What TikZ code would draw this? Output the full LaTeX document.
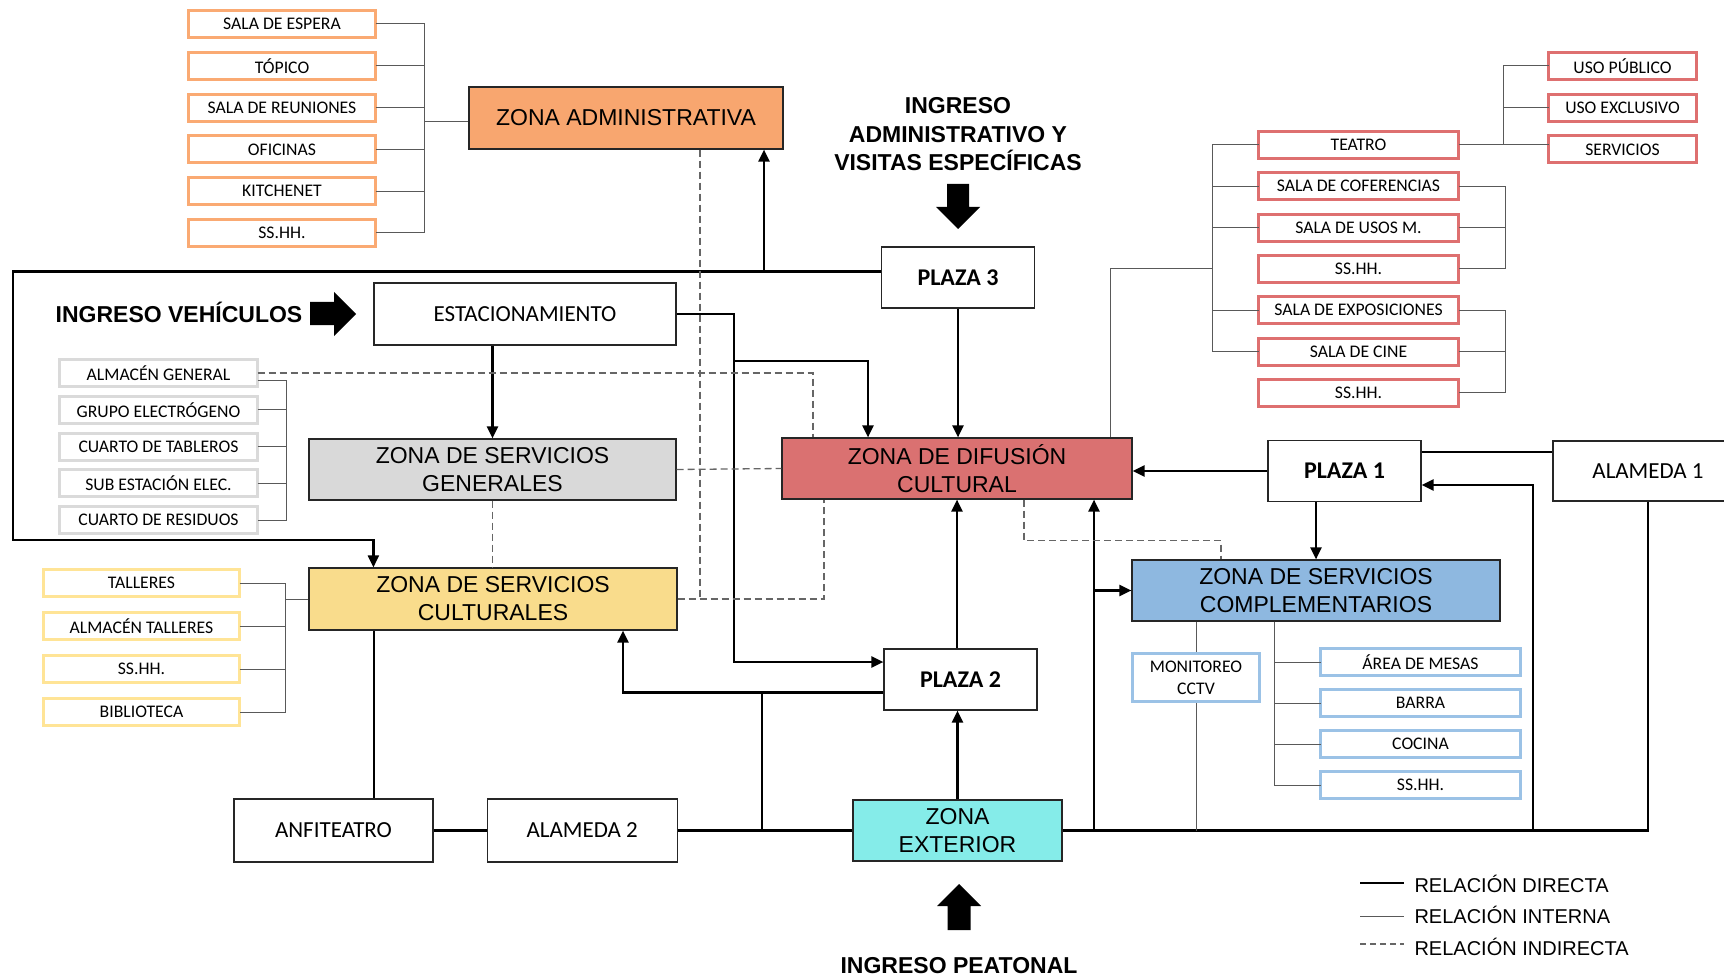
\documentclass[tikz,border=0pt]{standalone}
\usepackage{fontspec}
\setmainfont{Liberation Sans}
\newfontfamily\carlito{Carlito}
\usepackage{xcolor}
\usepackage{tikz}
\usetikzlibrary{arrows.meta, positioning, matrix}
\definecolor{admfill}{RGB}{248,166,111}
\definecolor{admline}{RGB}{250,170,115}
\definecolor{difufill}{RGB}{218,113,113}
\definecolor{difuline}{RGB}{222,112,112}
\definecolor{genfill}{RGB}{217,217,217}
\definecolor{genline}{RGB}{218,218,218}
\definecolor{cultfill}{RGB}{249,220,140}
\definecolor{cultline}{RGB}{255,228,150}
\definecolor{complfill}{RGB}{142,184,224}
\definecolor{complline}{RGB}{155,194,230}
\definecolor{extfill}{RGB}{133,236,233}
\newcommand{\zonefont}{\fontsize{23}{28}\selectfont}
\newcommand{\subfont}{\carlito\fontsize{17.7}{22}\selectfont}
\newcommand{\placefont}{\carlito\fontsize{23}{28}\selectfont}
\newcommand{\plazafont}{\carlito\bfseries\fontsize{24}{28}\selectfont}
\newcommand{\headfont}{\bfseries\fontsize{23}{28.5}\selectfont}
\newcommand{\legendfont}{\fontsize{20}{24}\selectfont}

\begin{document}
\begin{tikzpicture}[x=1pt, y=-1pt,
    >={Triangle[length=12pt, width=11pt]},
    zonebox/.style={draw=black!85, line width=1.2pt, inner sep=0pt, align=center, font=\zonefont},
    placebox/.style={draw=black!85, line width=1.2pt, inner sep=0pt, align=center, font=\placefont, fill=white},
    plazabox/.style={placebox, font=\plazafont, minimum width=153pt, minimum height=61pt},
    subbox/.style={line width=3pt, inner sep=0pt, minimum height=27pt, anchor=center, font=\subfont, fill=white},
    directa/.style={line width=2.2pt, black},
    interna/.style={line width=1pt, black!65},
    indirecta/.style={line width=1.3pt, black!60, dash pattern=on 7pt off 4pt},
    ]
\useasboundingbox (0,0) rectangle (1724,976);

% Zonas principales
\node[zonebox, fill=admfill, minimum width=314pt, minimum height=62pt] (admzone) at (626,118) {ZONA ADMINISTRATIVA};
\node[zonebox, fill=genfill, minimum width=367pt, minimum height=61pt] (gen) at (492.5,469.5) {ZONA DE SERVICIOS\\GENERALES};
\node[zonebox, fill=difufill, minimum width=350pt, minimum height=61pt] (difu) at (957,468.5) {ZONA DE DIFUSIÓN\\CULTURAL};
\node[zonebox, fill=cultfill, minimum width=368pt, minimum height=62pt] (cult) at (493,599) {ZONA DE SERVICIOS\\CULTURALES};
\node[zonebox, fill=complfill, minimum width=368pt, minimum height=61pt] (compl) at (1316,590.5) {ZONA DE SERVICIOS\\COMPLEMENTARIOS};
\node[zonebox, fill=extfill, minimum width=209pt, minimum height=61pt] (ext) at (957.5,830.5) {ZONA\\EXTERIOR};

% Plazas y espacios abiertos
\node[plazabox] (plaza3) at (958,277.5) {PLAZA 3};
\node[plazabox] (plaza1) at (1344.5,471) {PLAZA 1};
\node[plazabox] (plaza2) at (960.5,679.5) {PLAZA 2};
\node[placebox, minimum width=302pt, minimum height=62pt] (estac) at (525,314) {ESTACIONAMIENTO};
\node[placebox, minimum width=190pt, minimum height=60pt] (alameda1) at (1648,471) {ALAMEDA 1};
\node[placebox, minimum width=199pt, minimum height=63pt] (anfi) at (333.5,830.5) {ANFITEATRO};
\node[placebox, minimum width=190pt, minimum height=63pt, right=53pt of anfi] (alameda2) {ALAMEDA 2};

% Ingresos
\node[font=\headfont, align=center] (ingadm) at (958,134.5) {INGRESO\\ADMINISTRATIVO Y\\VISITAS ESPECÍFICAS};
\node[font=\headfont, anchor=base] (ingveh) at (179,323) {INGRESO VEHÍCULOS};
\node[font=\headfont, anchor=base] (ingpea) at (959,973) {INGRESO PEATONAL};
\fill (947,184) -- (969,184) -- (969,207) -- (980,207) -- (958,229) -- (936,207) -- (947,207) -- cycle;
\fill (310,302) -- (334,302) -- (334,292) -- (356,314) -- (334,336) -- (334,325) -- (310,325) -- cycle;
\fill (947.5,930) -- (970.5,930) -- (970.5,906) -- (981,906) -- (959,884) -- (937,906) -- (947.5,906) -- cycle;

% Ambientes — zona administrativa
\matrix[matrix of nodes,
    nodes={subbox, draw=admline, minimum width=187pt},
    row sep=11.8pt, inner sep=0pt, outer sep=0pt,
    anchor=north west,
    ] (admlist) at (187,9) {
    SALA DE ESPERA \\
    TÓPICO \\
    SALA DE REUNIONES \\
    OFICINAS \\
    KITCHENET \\
    SS.HH. \\
};

% Ambientes — servicios generales
\matrix[matrix of nodes,
    nodes={subbox, draw=genline, minimum width=198pt},
    row sep=6.75pt, inner sep=0pt, outer sep=0pt,
    anchor=north west,
    ] (genlist) at (58,358) {
    ALMACÉN GENERAL \\
    GRUPO ELECTRÓGENO \\
    CUARTO DE TABLEROS \\
    SUB ESTACIÓN ELEC. \\
    CUARTO DE RESIDUOS \\
};

% Ambientes — servicios culturales
\matrix[matrix of nodes,
    nodes={subbox, draw=cultline, minimum width=196pt},
    row sep=13pt, inner sep=0pt, outer sep=0pt,
    anchor=north west,
    ] (cultlist) at (42,568) {
    TALLERES \\
    ALMACÉN TALLERES \\
    SS.HH. \\
    BIBLIOTECA \\
};

% Ambientes — difusión cultural
\matrix[matrix of nodes,
    nodes={subbox, draw=difuline, minimum width=200pt},
    row sep=11.3pt, inner sep=0pt, outer sep=0pt,
    anchor=north west,
    ] (difulist) at (1257,130) {
    TEATRO \\
    SALA DE COFERENCIAS \\
    SALA DE USOS M. \\
    SS.HH. \\
    SALA DE EXPOSICIONES \\
    SALA DE CINE \\
    SS.HH. \\
};
\matrix[matrix of nodes,
    nodes={subbox, draw=difuline, minimum width=148pt},
    row sep=11.75pt, inner sep=0pt, outer sep=0pt,
    anchor=north west,
    ] (usolist) at (1547,51) {
    USO PÚBLICO \\
    USO EXCLUSIVO \\
    SERVICIOS \\
};

% Ambientes — servicios complementarios
\node[subbox, draw=complline, minimum width=127pt, minimum height=48pt, align=center, font=\carlito\fontsize{17.7}{22}\selectfont] (monitoreo) at (1196,677.5) {MONITOREO\\CCTV};
\matrix[matrix of nodes,
    nodes={subbox, draw=complline, minimum width=200pt},
    row sep=11pt, inner sep=0pt, outer sep=0pt,
    anchor=north west,
    ] (compllist) at (1319,647) {
    ÁREA DE MESAS \\
    BARRA \\
    COCINA \\
    SS.HH. \\
};

% Relación directa
\coordinate (admjoin) at (764,271);
\coordinate (estjoin) at (734,361);
\coordinate (estturn) at (734,662);
\coordinate (plazajoin) at (762,693);
\coordinate (alaret) at (1533,830);
\coordinate (extjoin) at (1094,830);
\draw[directa, ->] ([yshift=6pt]plaza3.west) -| (13,540) -| (estac.west |- cult.north);
\draw[directa, ->] (admjoin) -- (admjoin |- admzone.south);
\draw[directa, ->] (gen.north |- estac.south) -- (gen.north);
\draw[directa, ->] (estac.east) -| (estturn) -- (estturn -| plaza2.west);
\draw[directa, ->] (estjoin) -| ([xshift=-89pt]difu.north);
\draw[directa, ->] (plaza3.south) -- (plaza3.south |- difu.north);
\draw[directa, ->] (plaza1.west) -- (plaza1.west -| difu.east);
\draw[directa] ([yshift=19pt]plaza1.east) -- ([yshift=19pt]plaza1.east -| alameda1.west);
\draw[directa] (alameda1.south) |- (ext.east);
\draw[directa, ->] (alaret) |- ([yshift=-14pt]plaza1.east);
\draw[directa, ->] (plaza1.south -| compl.north) -- (compl.north);
\draw[directa, ->] (extjoin) -- (extjoin |- difu.south);
\draw[directa, ->] (extjoin |- compl.west) -- (compl.west);
\draw[directa, ->] (ext.north) -- (ext.north |- plaza2.south);
\draw[directa, ->] (difu.south |- plaza2.north) -- (difu.south);
\draw[directa, ->] ([yshift=-13pt]plaza2.west) -| ([xshift=130pt]cult.south);
\draw[directa] (plazajoin) -- (plazajoin |- ext.west);
\draw[directa] (ext.west) -- (alameda2.east);
\draw[directa] (anfi.east) -- (alameda2.west);
\draw[directa] ([xshift=40.5pt]anfi.north) -- ([xshift=40.5pt]anfi.north |- cult.south);

% Relación indirecta
\draw[indirecta] ([xshift=74pt]admzone.south) -- ([xshift=74pt]admzone.south |- cult.east);
\draw[indirecta] (genlist-1-1.east) -| ([xshift=-144pt]difu.north);
\draw[indirecta] (gen.east) -- (difu.west);
\draw[indirecta] (gen.south) -- (gen.south |- cult.north);
\draw[indirecta] (cult.east) -| ([xshift=-133pt]difu.south);
\draw[indirecta] ([xshift=67pt]difu.south) -- ++(0,41) -| ([xshift=-95pt]compl.north);

% Relación interna
\coordinate (admbus) at (424,0);
\coordinate (genbus) at (286,0);
\coordinate (cultbus) at (285,0);
\coordinate (difbus) at (1212,0);
\coordinate (difbusr) at (1505,0);
\coordinate (usobus) at (1503,0);
\coordinate (complbus) at (1274,0);
\draw[interna] (admlist-1-1.east) -| (admlist-6-1.east -| admbus) -- (admlist-6-1.east)
    (admlist-2-1.east) -- (admlist-2-1.east -| admbus)
    (admlist-3-1.east) -- (admlist-3-1.east -| admbus)
    (admlist-4-1.east) -- (admlist-4-1.east -| admbus)
    (admlist-5-1.east) -- (admlist-5-1.east -| admbus)
    ([yshift=-4pt]admzone.west -| admbus) -- ([yshift=-4pt]admzone.west);
\draw[interna] ([yshift=-7pt]genlist-1-1.east) -| (genlist-5-1.east -| genbus) -- (genlist-5-1.east)
    (genlist-2-1.east) -- (genlist-2-1.east -| genbus)
    (genlist-3-1.east) -- (genlist-3-1.east -| genbus)
    (genlist-4-1.east) -- (genlist-4-1.east -| genbus);
\draw[interna] (cultlist-1-1.east) -| (cultlist-4-1.east -| cultbus) -- (cultlist-4-1.east)
    (cultlist-2-1.east) -- (cultlist-2-1.east -| cultbus)
    (cultlist-3-1.east) -- (cultlist-3-1.east -| cultbus)
    (cult.west -| cultbus) -- (cult.west);
\draw[interna] (difulist-1-1.west) -| (difulist-6-1.west -| difbus) -- (difulist-6-1.west)
    (difulist-2-1.west) -- (difulist-2-1.west -| difbus)
    (difulist-3-1.west) -- (difulist-3-1.west -| difbus)
    (difulist-5-1.west) -- (difulist-5-1.west -| difbus)
    ([xshift=153pt]difu.north) |- (difulist-4-1.west -| difbus);
\draw[interna] (difulist-2-1.east) -| (difulist-4-1.east -| difbusr) -- (difulist-4-1.east)
    (difulist-3-1.east) -- (difulist-3-1.east -| difbusr)
    (difulist-5-1.east) -| (difulist-7-1.east -| difbusr) -- (difulist-7-1.east)
    (difulist-6-1.east) -- (difulist-6-1.east -| difbusr);
\draw[interna] (difulist-1-1.east) -- (difulist-1-1.east -| usolist-3-1.west)
    (usolist-1-1.west) -| (difulist-1-1.east -| usobus)
    (usolist-2-1.west) -- (usolist-2-1.west -| usobus);
\draw[interna] (monitoreo.north |- compl.south) -- (monitoreo.north)
    (monitoreo.south) -- (monitoreo.south |- ext.east);
\draw[interna] (compl.south -| complbus) |- (compllist-4-1.west)
    (compllist-1-1.west -| complbus) -- (compllist-1-1.west)
    (compllist-2-1.west -| complbus) -- (compllist-2-1.west)
    (compllist-3-1.west -| complbus) -- (compllist-3-1.west);

% Leyenda
\node[font=\legendfont, anchor=base west] (legdir) at (1411,892) {RELACIÓN DIRECTA};
\node[font=\legendfont, anchor=base west] (legint) at (1411,923) {RELACIÓN INTERNA};
\node[font=\legendfont, anchor=base west] (legind) at (1411,955) {RELACIÓN INDIRECTA};
\draw[directa] ([xshift=-51pt, yshift=9pt]legdir.base west) -- ++(44,0);
\draw[interna] ([xshift=-51pt, yshift=7pt]legint.base west) -- ++(44,0);
\draw[indirecta, dash pattern=on 6pt off 4pt] ([xshift=-51pt, yshift=11pt]legind.base west) -- ++(44,0);
\end{tikzpicture}
\end{document}
